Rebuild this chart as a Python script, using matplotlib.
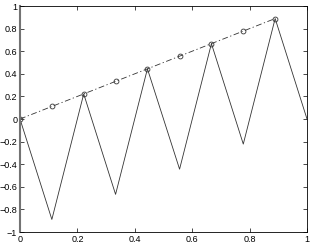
import matplotlib
matplotlib.use('Agg')
import matplotlib.pyplot as plt

# zigzag (solid) series
x_zig = [0, 0.111, 0.222, 0.333, 0.444, 0.556, 0.667, 0.778, 0.889, 1.0]
y_zig = [0, -0.889, 0.222, -0.667, 0.444, -0.444, 0.667, -0.222, 0.889, 0]

# dash-dot series with circle markers
x_line = [0, 0.111, 0.222, 0.333, 0.444, 0.556, 0.667, 0.778, 0.889]
y_line = [0, 0.111, 0.222, 0.333, 0.444, 0.556, 0.667, 0.778, 0.889]

xticks = [0, 0.2, 0.4, 0.6, 0.8, 1]
yticks = [-1, -0.8, -0.6, -0.4, -0.2, 0, 0.2, 0.4, 0.6, 0.8, 1]

plt.rcParams['font.family'] = ['Liberation Sans', 'DejaVu Sans']

fig = plt.figure(figsize=(3.13, 2.45), dpi=100)
ax = fig.add_axes([20 / 313, 13 / 245, 287 / 313, 226 / 245])

ax.plot(x_zig, y_zig, color='0.2', linewidth=0.6)
ax.plot(x_line, y_line, color='0.2', linewidth=0.6, dashes=(7, 3, 1.5, 3),
        marker='o', markersize=3.5, markerfacecolor='none', markeredgewidth=0.6)

ax.set_xlim(0, 1)
ax.set_ylim(-1, 1)
ax.set_xticks(xticks)
ax.set_yticks(yticks)
ax.set_xticklabels(['0', '0.2', '0.4', '0.6', '0.8', '1'])
ax.set_yticklabels(['\u22121', '\u22120.8', '\u22120.6', '\u22120.4', '\u22120.2', '0',
                    '0.2', '0.4', '0.6', '0.8', '1'])
ax.tick_params(direction='in', length=3, width=0.5, labelsize=6.5, pad=2,
               top=True, right=True)
for side, sp in ax.spines.items():
    sp.set_linewidth(0.6)
ax.spines['left'].set_linewidth(1.5)
ax.spines['left'].set_color('0.45')

fig.savefig('out.png', dpi=100)
plt.close(fig)
